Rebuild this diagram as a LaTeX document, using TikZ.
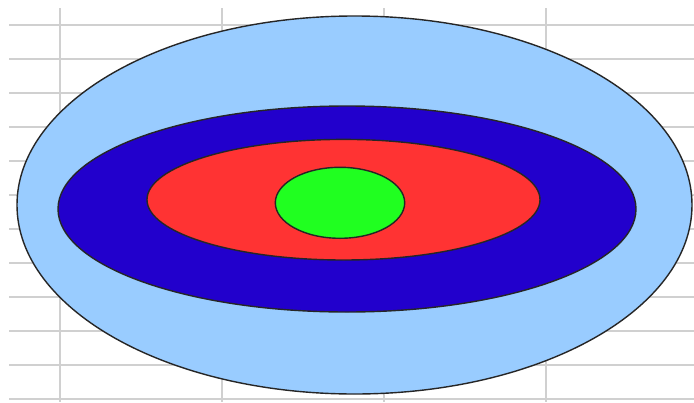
\documentclass[tikz,border=0pt]{standalone}
\begin{document}
\begin{tikzpicture}[x=1pt,y=-1pt,
  gridline/.style={draw={rgb,255:red,208;green,208;blue,208},line width=2pt},
  ring/.style={draw=black!85,line width=1.4pt}]
\definecolor{lightblue}{RGB}{153,204,255}
\definecolor{deepblue}{RGB}{34,0,204}
\definecolor{brightred}{RGB}{255,51,51}
\definecolor{brightgreen}{RGB}{32,255,32}
\useasboundingbox (0,0) rectangle (694,402);
\fill[white] (0,0) rectangle (694,402);
% grid
\foreach \yy in {25,59,93,127,161,195,229,263,297,331,365,399}
  \draw[gridline] (9,\yy) -- (694,\yy);
\foreach \xx in {60,222,384,546}
  \draw[gridline] (\xx,8) -- (\xx,402);
% rings
\filldraw[ring,fill=lightblue] (354.5,205) ellipse [x radius=337.5,y radius=189];
\filldraw[ring,fill=deepblue] (347,209) ellipse [x radius=289,y radius=103];
\filldraw[ring,fill=brightred] (343.5,199.7) ellipse [x radius=196.5,y radius=60.3];
\filldraw[ring,fill=brightgreen] (340,202.8) ellipse [x radius=64.7,y radius=35.5];
\end{tikzpicture}
\end{document}
